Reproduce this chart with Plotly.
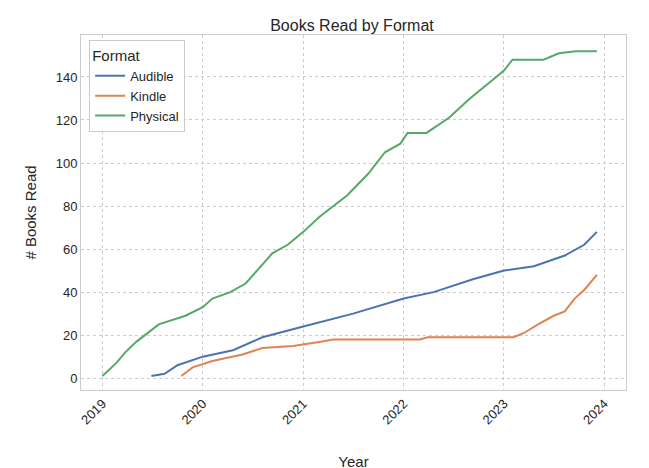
import plotly.graph_objects as go

physical_dates = ["2019-01-01", "2019-02-20", "2019-03-25", "2019-05-05", "2019-07-25", "2019-10-30",
                  "2020-01-01", "2020-02-05", "2020-04-10", "2020-06-05", "2020-09-10", "2020-11-05",
                  "2021-01-01", "2021-03-01", "2021-06-10", "2021-08-25", "2021-10-25", "2021-12-20",
                  "2022-01-15", "2022-03-25", "2022-06-15", "2022-08-30", "2022-11-15", "2023-01-01",
                  "2023-02-01", "2023-05-25", "2023-07-20", "2023-09-20", "2023-12-05"]
physical_counts = [1, 7, 12, 17, 25, 29, 33, 37, 40, 44, 58, 62, 68, 75, 85, 95, 105, 109,
                   114, 114, 121, 130, 138, 143, 148, 148, 151, 152, 152]

audible_dates = ["2019-06-28", "2019-08-15", "2019-10-01", "2020-01-01", "2020-04-20", "2020-08-05",
                 "2021-01-01", "2021-07-01", "2022-01-01", "2022-04-20", "2022-09-10", "2023-01-01",
                 "2023-04-20", "2023-08-10", "2023-10-20", "2023-12-05"]
audible_counts = [1, 2, 6, 10, 13, 19, 24, 30, 37, 40, 46, 50, 52, 57, 62, 68]

kindle_dates = ["2019-10-15", "2019-11-25", "2020-02-05", "2020-05-25", "2020-08-05", "2020-11-25",
                "2021-03-10", "2021-04-20", "2022-03-01", "2022-03-30", "2023-02-05", "2023-03-15",
                "2023-05-05", "2023-07-01", "2023-08-10", "2023-09-15", "2023-10-20", "2023-11-20",
                "2023-12-05"]
kindle_counts = [1, 5, 8, 11, 14, 15, 17, 18, 18, 19, 19, 21, 25, 29, 31, 37, 41, 46, 48]

series = [("Audible", audible_dates, audible_counts, "#4c72b0"),
          ("Kindle", kindle_dates, kindle_counts, "#dd8452"),
          ("Physical", physical_dates, physical_counts, "#55a868")]

fig = go.Figure()
for name, d, c, col in series:
    fig.add_trace(go.Scatter(x=d, y=c, name=name, mode="lines",
                             line=dict(color=col, width=2)))

axis_common = dict(showgrid=True, gridcolor="#cccccc", griddash="dot", gridwidth=1,
                   showline=True, linecolor="#cccccc", linewidth=1, mirror=True, automargin=False,
                   zeroline=False, ticks="", tickfont=dict(size=13, color="#262626"))

fig.update_layout(
    width=649, height=468,
    font=dict(family="Liberation Sans, Arial", color="#262626"),
    plot_bgcolor="white", paper_bgcolor="white",
    title=dict(text="Books Read by Format", x=0.53, xanchor="center", y=0.975, font=dict(size=16)),
    margin=dict(l=73, r=31, t=27, b=86),
    xaxis=dict(title=dict(text="Year", font=dict(size=15), standoff=30), tickangle=-45,
               tickvals=["2019-01-01", "2020-01-01", "2021-01-01", "2022-01-01", "2023-01-01", "2024-01-01"],
               ticktext=["2019", "2020", "2021", "2022", "2023", "2024"],
               range=["2018-10-15", "2024-03-20"], **axis_common),
    yaxis=dict(title=dict(text="# Books Read", font=dict(size=15)),
               range=[-5.5, 159.5], dtick=20, **axis_common),
    legend=dict(title=dict(text="Format", font=dict(size=15)), x=0.015, y=0.985,
                xanchor="left", yanchor="top", bordercolor="#cccccc", borderwidth=1,
                bgcolor="white", font=dict(size=13)),
)
fig.write_html("out.html")
